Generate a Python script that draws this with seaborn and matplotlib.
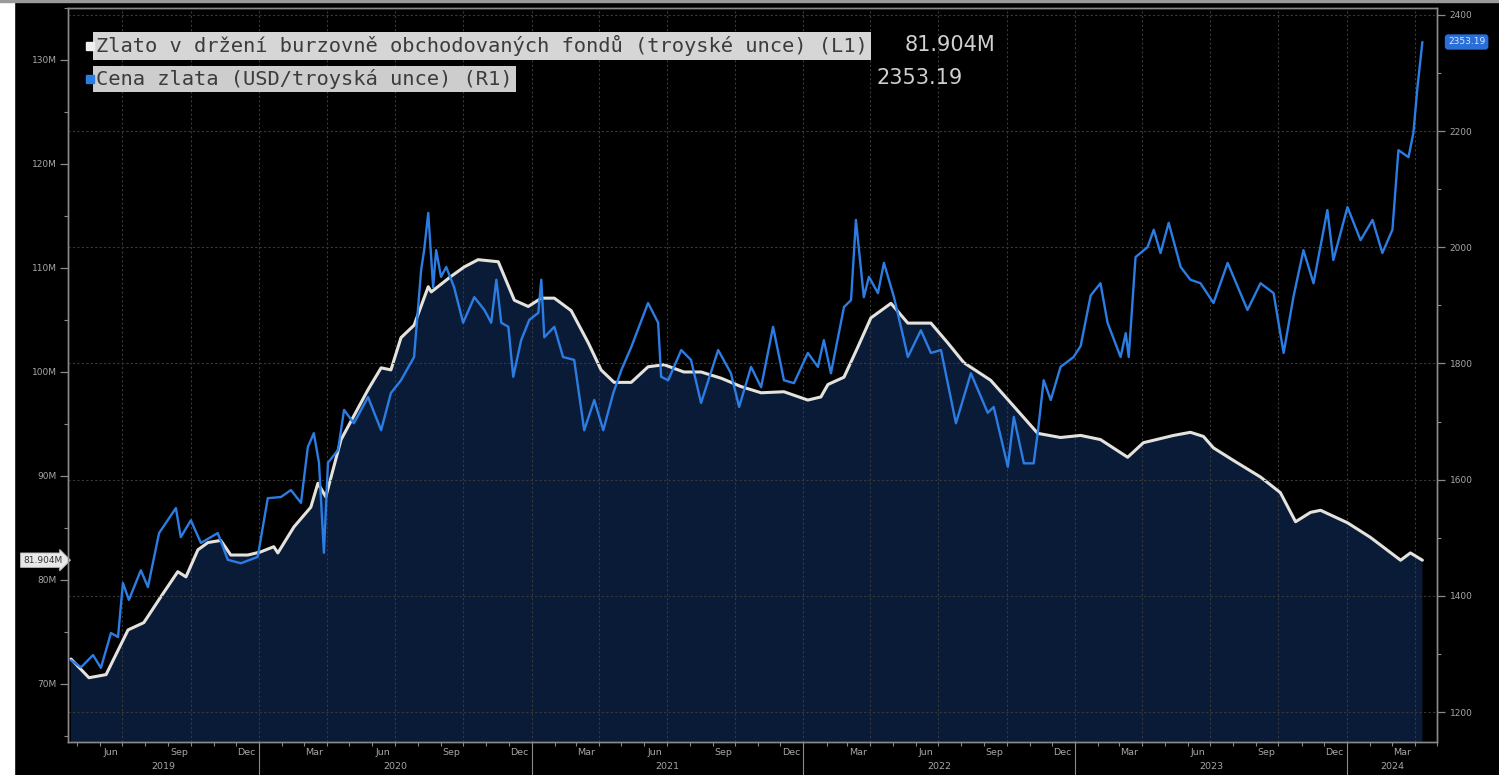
"""
Gold held by ETFs (L1) vs gold price (R1), Bloomberg-style dark chart.
Output: out.png
"""

import matplotlib

matplotlib.use("Agg")

import matplotlib.dates as mdates
import matplotlib.pyplot as plt
import matplotlib.transforms as mtransforms
import pandas as pd
import seaborn as sns
from matplotlib.patches import Rectangle
from matplotlib.ticker import FixedLocator, MultipleLocator


# dates are stored as decimal years
ETF_YEARS = [
    2019.307, 2019.373, 2019.436, 2019.517, 2019.575, 2019.638, 2019.700, 2019.730,
    2019.774, 2019.811, 2019.858, 2019.895, 2019.958, 2020.005, 2020.053, 2020.068,
    2020.127, 2020.189, 2020.215, 2020.244, 2020.300, 2020.399, 2020.447, 2020.483,
    2020.520, 2020.568, 2020.620, 2020.631, 2020.704, 2020.752, 2020.803, 2020.877,
    2020.936, 2020.987, 2021.035, 2021.083, 2021.145, 2021.208, 2021.255, 2021.303,
    2021.366, 2021.428, 2021.487, 2021.560, 2021.623, 2021.697, 2021.770, 2021.844,
    2021.928, 2022.016, 2022.064, 2022.090, 2022.149, 2022.200, 2022.248, 2022.322,
    2022.384, 2022.469, 2022.531, 2022.590, 2022.689, 2022.774, 2022.862, 2022.946,
    2023.020, 2023.093, 2023.193, 2023.251, 2023.362, 2023.424, 2023.472, 2023.509,
    2023.582, 2023.682, 2023.755, 2023.811, 2023.866, 2023.903, 2024.002, 2024.086,
    2024.197, 2024.233, 2024.277,
]
ETF_HOLDINGS_M = [
    72.4, 70.6, 70.9, 75.2, 75.9, 78.4, 80.8, 80.3,
    82.9, 83.6, 83.8, 82.4, 82.4, 82.7, 83.2, 82.6,
    85.1, 87.0, 89.3, 88.0, 93.5, 98.3, 100.4, 100.2,
    103.3, 104.5, 108.2, 107.7, 109.2, 110.1, 110.8, 110.6,
    106.9, 106.3, 107.1, 107.1, 105.9, 102.8, 100.2, 99.0,
    99.0, 100.5, 100.7, 100.0, 100.0, 99.4, 98.6, 98.0,
    98.1, 97.3, 97.6, 98.8, 99.5, 102.4, 105.2, 106.6,
    104.7, 104.7, 102.8, 100.9, 99.2, 96.7, 94.1, 93.7,
    93.9, 93.5, 91.8, 93.2, 93.9, 94.2, 93.8, 92.7,
    91.5, 89.9, 88.4, 85.6, 86.5, 86.7, 85.5, 84.1,
    81.9, 82.6, 81.904,
]

GOLD_YEARS = [
    2019.307, 2019.344, 2019.388, 2019.417, 2019.454, 2019.480, 2019.498, 2019.520,
    2019.564, 2019.590, 2019.631, 2019.693, 2019.711, 2019.748, 2019.785, 2019.847,
    2019.884, 2019.932, 2019.994, 2020.031, 2020.079, 2020.116, 2020.153, 2020.178,
    2020.200, 2020.219, 2020.237, 2020.252, 2020.289, 2020.311, 2020.347, 2020.399,
    2020.447, 2020.483, 2020.520, 2020.568, 2020.594, 2020.605, 2020.620, 2020.638,
    2020.649, 2020.667, 2020.686, 2020.715, 2020.748, 2020.789, 2020.826, 2020.851,
    2020.870, 2020.888, 2020.914, 2020.932, 2020.961, 2020.991, 2021.024, 2021.035,
    2021.046, 2021.083, 2021.115, 2021.156, 2021.193, 2021.230, 2021.263, 2021.300,
    2021.330, 2021.366, 2021.428, 2021.465, 2021.476, 2021.502, 2021.550, 2021.586,
    2021.623, 2021.686, 2021.733, 2021.763, 2021.807, 2021.844, 2021.888, 2021.928,
    2021.965, 2022.016, 2022.053, 2022.075, 2022.101, 2022.149, 2022.175, 2022.193,
    2022.222, 2022.241, 2022.274, 2022.296, 2022.333, 2022.370, 2022.384, 2022.432,
    2022.469, 2022.506, 2022.561, 2022.616, 2022.678, 2022.700, 2022.752, 2022.774,
    2022.811, 2022.847, 2022.862, 2022.884, 2022.910, 2022.946, 2022.994, 2023.020,
    2023.057, 2023.093, 2023.119, 2023.167, 2023.186, 2023.197, 2023.222, 2023.266,
    2023.289, 2023.314, 2023.344, 2023.388, 2023.424, 2023.461, 2023.509, 2023.561,
    2023.634, 2023.682, 2023.730, 2023.767, 2023.803, 2023.840, 2023.877, 2023.928,
    2023.950, 2024.002, 2024.050, 2024.094, 2024.130, 2024.167, 2024.189, 2024.226,
    2024.244, 2024.259, 2024.277,
]
GOLD_PRICE = [
    1289, 1277, 1298, 1276, 1336, 1329, 1422, 1393,
    1444, 1415, 1508, 1551, 1501, 1530, 1491, 1508,
    1462, 1456, 1467, 1568, 1570, 1582, 1560, 1656,
    1680, 1629, 1474, 1629, 1651, 1720, 1697, 1742,
    1685, 1749, 1771, 1811, 1961, 1995, 2059, 1931,
    1995, 1949, 1966, 1931, 1870, 1914, 1892, 1870,
    1944, 1870, 1863, 1777, 1840, 1875, 1887, 1944,
    1845, 1863, 1811, 1806, 1685, 1737, 1685, 1749,
    1789, 1828, 1904, 1870, 1777, 1771, 1823, 1806,
    1732, 1823, 1783, 1725, 1794, 1759, 1863, 1771,
    1766, 1818, 1794, 1840, 1783, 1897, 1909, 2047,
    1914, 1949, 1921, 1973, 1914, 1840, 1811, 1857,
    1818, 1823, 1697, 1783, 1715, 1725, 1622, 1708,
    1628, 1628, 1680, 1771, 1737, 1794, 1811, 1830,
    1917, 1938, 1870, 1811, 1852, 1811, 1983, 2000,
    2030, 1990, 2042, 1966, 1944, 1938, 1904, 1973,
    1892, 1938, 1921, 1818, 1914, 1995, 1938, 2064,
    1978, 2069, 2012, 2047, 1990, 2030, 2167, 2155,
    2197, 2276, 2353.19,
]

LEGEND_ETF = "Zlato v držení burzovně obchodovaných fondů (troyské unce) (L1)"
LEGEND_GOLD = "Cena zlata (USD/troyská unce) (R1)"
LAST_ETF = "81.904M"
LAST_GOLD = "2353.19"

LEFT_TICKS = [70, 80, 90, 100, 110, 120, 130]
RIGHT_TICKS = [1200, 1400, 1600, 1800, 2000, 2200, 2400]
YEARS = [2019, 2020, 2021, 2022, 2023, 2024]
MONTH_NAMES = {3: "Mar", 6: "Jun", 9: "Sep", 12: "Dec"}

X_START = pd.Timestamp("2019-04-19")
X_END = pd.Timestamp("2024-05-01")

ETF_COLOR = "#e4e2dc"
GOLD_COLOR = "#2b7de3"
FILL_COLOR = "#0a1b38"
TEXT_COLOR = "#a6a6a6"
SPINE_COLOR = "#8a8a8a"
GRID_COLOR = "#383838"


def decimal_years_to_dates(values: list[float]) -> pd.DatetimeIndex:
    dates = []
    for value in values:
        year = int(value)
        start = pd.Timestamp(year=year, month=1, day=1)
        length = (pd.Timestamp(year=year + 1, month=1, day=1) - start).days
        dates.append(start + pd.Timedelta(days=(value - year) * length))
    return pd.DatetimeIndex(dates)


sns.set_style("dark", rc={"axes.facecolor": "black", "figure.facecolor": "black"})
plt.rcParams["font.family"] = ["DejaVu Sans"]

etf_df = pd.DataFrame({"date": decimal_years_to_dates(ETF_YEARS), "holdings": ETF_HOLDINGS_M})
gold_df = pd.DataFrame({"date": decimal_years_to_dates(GOLD_YEARS), "price": GOLD_PRICE})

W, H = 1499, 775
fig = plt.figure(figsize=(W / 100, H / 100), dpi=100, facecolor="black")
fig.patches.append(Rectangle((0, 0), 14 / W, 1, transform=fig.transFigure, color="white", zorder=0))
fig.patches.append(Rectangle((0, 1 - 2 / H), 1, 2 / H, transform=fig.transFigure, color="#9a9a9a", zorder=0))

ax = fig.add_axes([68 / W, 1 - 742 / H, (1437 - 68) / W, (742 - 8) / H])
ax.set_facecolor("black")
ax2 = ax.twinx()
ax2.set_facecolor("none")

# left: ETF holdings with filled area
ax.fill_between(etf_df["date"], etf_df["holdings"], 0, color=FILL_COLOR, lw=0, zorder=1)
sns.lineplot(data=etf_df, x="date", y="holdings", ax=ax, color=ETF_COLOR, lw=2.2, zorder=3)
ax.set_ylim(64.42, 135.0)
ax.set_xlim(X_START, X_END)

# right: gold price
sns.lineplot(data=gold_df, x="date", y="price", ax=ax2, color=GOLD_COLOR, lw=1.7, zorder=3)
ax2.set_ylim(1148.4, 2411.7)
ax2.set_xlim(X_START, X_END)

for a in (ax, ax2):
    a.set_xlabel("")
    a.set_ylabel("")
    a.grid(False)
    for spine in a.spines.values():
        spine.set_color(SPINE_COLOR)
        spine.set_linewidth(1.0)

# grid: horizontal on right-axis ticks, vertical at quarter starts
for value in RIGHT_TICKS:
    ax2.axhline(value, color=GRID_COLOR, lw=0.8, ls=(0, (2, 2)), zorder=0.5)
for day in pd.date_range("2019-07-01", "2024-04-01", freq="QS"):
    ax.axvline(day, color=GRID_COLOR, lw=0.8, ls=(0, (2, 2)), zorder=2)

# left axis ticks
ax.yaxis.set_major_locator(FixedLocator(LEFT_TICKS))
ax.set_yticklabels([f"{v}M" for v in LEFT_TICKS])
ax.yaxis.set_minor_locator(MultipleLocator(5))
ax.tick_params(axis="y", which="major", left=True, length=6, width=0.9, color=SPINE_COLOR,
               labelsize=6.5, labelcolor=TEXT_COLOR, pad=2)
ax.tick_params(axis="y", which="minor", left=True, length=3, width=0.8, color=SPINE_COLOR)

# right axis ticks
ax2.yaxis.set_major_locator(FixedLocator(RIGHT_TICKS))
ax2.set_yticklabels([str(v) for v in RIGHT_TICKS])
ax2.yaxis.set_minor_locator(MultipleLocator(100))
ax2.tick_params(axis="y", which="major", right=True, length=6, width=0.9, color=SPINE_COLOR,
                labelsize=6.5, labelcolor=TEXT_COLOR, pad=3)
ax2.tick_params(axis="y", which="minor", right=True, length=3, width=0.8, color=SPINE_COLOR)

# time axis: month labels mid-month, monthly minor ticks, year row below
label_days = [
    pd.Timestamp(year=y, month=m, day=15)
    for y in YEARS
    for m in MONTH_NAMES
    if X_START <= pd.Timestamp(year=y, month=m, day=15) <= X_END
]
ax.set_xticks(label_days)
ax.set_xticklabels([MONTH_NAMES[d.month] for d in label_days])
ax.xaxis.set_minor_locator(mdates.MonthLocator())
ax.tick_params(axis="x", which="major", bottom=True, length=0, labelsize=6.8,
               labelcolor=TEXT_COLOR, pad=4)
ax.tick_params(axis="x", which="minor", bottom=True, length=3, width=0.8, color=SPINE_COLOR)
ax2.tick_params(axis="x", which="both", bottom=False, labelbottom=False)

year_tf = mtransforms.blended_transform_factory(ax.transData, ax.transAxes)
for year in YEARS:
    first = max(pd.Timestamp(year=year, month=1, day=1), X_START)
    last = min(pd.Timestamp(year=year + 1, month=1, day=1), X_END)
    ax.text(first + (last - first) / 2, -0.034, str(year), transform=year_tf, ha="center",
            va="center", fontsize=6.8, color=TEXT_COLOR)
    if year > YEARS[0]:
        ax.axvline(pd.Timestamp(year=year, month=1, day=1), ymin=-0.045, ymax=0, clip_on=False,
                   color=SPINE_COLOR, lw=0.8)

# last-value tags on both axes
left_tf = mtransforms.blended_transform_factory(ax.transAxes, ax.transData)
ax.text(-0.004, ETF_HOLDINGS_M[-1], LAST_ETF, transform=left_tf, ha="right", va="center",
        fontsize=6.5, color="#333333", clip_on=False,
        bbox=dict(boxstyle="rarrow,pad=0.3", fc="#e8e8e8", ec="#bbbbbb", lw=0.6))
right_tf = mtransforms.blended_transform_factory(ax2.transAxes, ax2.transData)
ax2.text(1.008, GOLD_PRICE[-1], LAST_GOLD, transform=right_tf, ha="left", va="center",
         fontsize=6.5, color="#dce8ff", clip_on=False,
         bbox=dict(boxstyle="round,pad=0.35", fc="#2a6fd8", ec="none"))

# legend block, top left
fig.patches.append(Rectangle((86 / W, 1 - 50 / H), 8 / W, 8 / H, transform=fig.transFigure,
                             color="#f0f0f0", zorder=5))
fig.patches.append(Rectangle((86 / W, 1 - 83 / H), 8 / W, 8 / H, transform=fig.transFigure,
                             color=GOLD_COLOR, zorder=5))
fig.text(96 / W, 1 - 46 / H, LEGEND_ETF, family="DejaVu Sans Mono", fontsize=14.7,
         color="#3c3c3c", ha="left", va="center",
         bbox=dict(boxstyle="square,pad=0.15", fc="#d6d6d6", ec="none"))
fig.text(96 / W, 1 - 79 / H, LEGEND_GOLD, family="DejaVu Sans Mono", fontsize=14.7,
         color="#3c3c3c", ha="left", va="center",
         bbox=dict(boxstyle="square,pad=0.15", fc="#cdcdcd", ec="none"))
fig.text(995 / W, 1 - 45 / H, LAST_ETF, fontsize=15, color="#d0d0d0", ha="right", va="center")
fig.text(963 / W, 1 - 78 / H, LAST_GOLD, fontsize=15, color="#d0d0d0", ha="right", va="center")

fig.savefig("out.png", dpi=100, facecolor="black")
plt.close(fig)
